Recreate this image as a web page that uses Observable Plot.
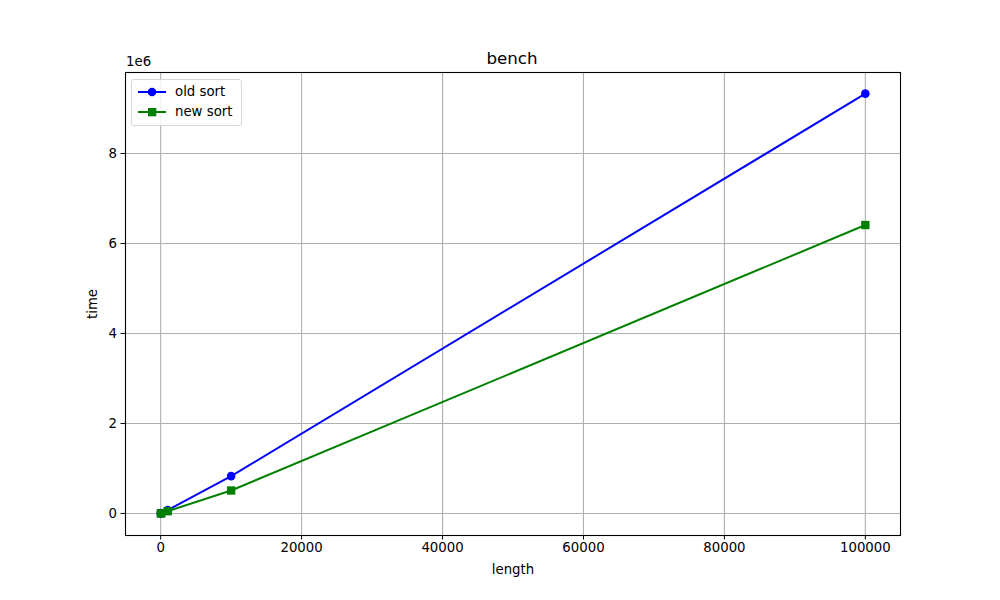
<!DOCTYPE html>
<html><head><meta charset="utf-8">
<script src="https://cdn.jsdelivr.net/npm/d3@7"></script>
<script src="https://cdn.jsdelivr.net/npm/@observablehq/plot@0.6"></script>
<style>
body{margin:0;background:#fff;font-family:"DejaVu Sans",sans-serif;}
#wrap{position:relative;width:1000px;height:600px;}
.ov{position:absolute;font-family:"DejaVu Sans",sans-serif;color:#000;}
#legend{position:absolute;left:131px;top:79px;width:109px;height:45px;border:1px solid #d6d6d6;border-radius:3px;background:rgba(255,255,255,0.8);font-size:13.3px;}
#legend .row{position:absolute;left:6px;height:20px;line-height:20px;}
#legend svg{vertical-align:middle;}
</style></head><body>
<div id="wrap"></div>
<script>
const lengths = [10, 100, 1000, 10000, 100000];
const oldSort = [1000, 8000, 75000, 830000, 9330000];
const newSort = [900, 6000, 50000, 510000, 6410000];
const xTicks = [0, 20000, 40000, 60000, 80000, 100000];
const yTicks = [0, 2e6, 4e6, 6e6, 8e6];
const seriesNames = ["old sort", "new sort"];
const seriesColors = ["#0000ff", "#008000"];

const oldData = lengths.map((x, i) => ({x, y: oldSort[i]}));
const newData = lengths.map((x, i) => ({x, y: newSort[i]}));

const chart = Plot.plot({
  width: 1000, height: 600,
  marginLeft: 125, marginRight: 100, marginTop: 72, marginBottom: 65,
  style: {fontFamily: "DejaVu Sans", fontSize: "13.3px", color: "#000", background: "#fff"},
  x: {domain: [-4990, 104990]},
  y: {domain: [-490000, 9800000]},
  marks: [
    Plot.gridX(xTicks, {stroke: "#b0b0b0", strokeOpacity: 1, strokeWidth: 1.1}),
    Plot.gridY(yTicks, {stroke: "#b0b0b0", strokeOpacity: 1, strokeWidth: 1.1}),
    Plot.axisX(xTicks, {tickFormat: d => String(d), tickSize: 4.5, tickPadding: 3, stroke: "#000", strokeWidth: 1, label: "length", labelAnchor: "center", labelArrow: "none", labelOffset: 38, fontSize: 13.3}),
    Plot.axisY(yTicks, {tickFormat: d => String(d / 1e6), tickSize: 4.5, tickPadding: 4, stroke: "#000", strokeWidth: 1, label: "time", labelAnchor: "center", labelArrow: "none", labelOffset: 38, fontSize: 13.3}),
    Plot.line(oldData, {x: "x", y: "y", stroke: seriesColors[0], strokeWidth: 2}),
    Plot.dot(oldData, {x: "x", y: "y", fill: seriesColors[0], r: 4.3, symbol: "circle"}),
    Plot.line(newData, {x: "x", y: "y", stroke: seriesColors[1], strokeWidth: 2}),
    Plot.dot(newData, {x: "x", y: "y", fill: seriesColors[1], r: 4.7, symbol: "square"}),
    Plot.frame({stroke: "#000", strokeWidth: 1.1})
  ]
});
const wrap = document.getElementById("wrap");
wrap.appendChild(chart);

function addText(txt, left, top, size, extra) {
  const d = document.createElement("div");
  d.className = "ov";
  d.textContent = txt;
  d.style.left = left + "px"; d.style.top = top + "px"; d.style.fontSize = size + "px";
  if (extra) Object.assign(d.style, extra);
  wrap.appendChild(d);
}
addText("bench", 512, 48, 16.7, {transform: "translateX(-50%)"});
addText("1e6", 126, 54, 13.3);

const lg = document.createElement("div");
lg.id = "legend";
seriesNames.forEach((name, i) => {
  const row = document.createElement("div");
  row.className = "row";
  row.style.top = (2 + i * 20) + "px";
  const marker = i === 0
    ? `<circle cx="14" cy="8" r="4.3" fill="${seriesColors[i]}"/>`
    : `<rect x="10" y="4" width="8.3" height="8.3" fill="${seriesColors[i]}"/>`;
  row.innerHTML = `<svg width="28" height="16"><line x1="0" x2="28" y1="8" y2="8" stroke="${seriesColors[i]}" stroke-width="2"/>${marker}</svg><span style="margin-left:9px">${name}</span>`;
  lg.appendChild(row);
});
wrap.appendChild(lg);
</script>
</body></html>
